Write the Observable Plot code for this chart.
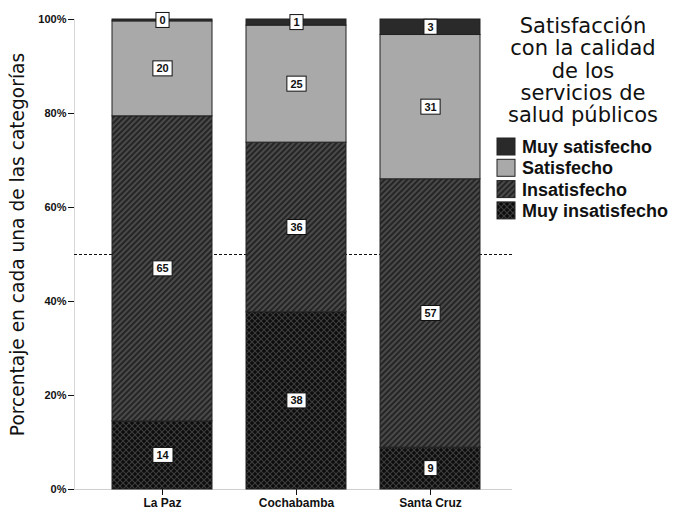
<!DOCTYPE html>
<html><head><meta charset="utf-8">
<script src="https://cdn.jsdelivr.net/npm/d3@7"></script>
<script src="https://cdn.jsdelivr.net/npm/@observablehq/plot@0.6"></script>
<style>
html,body{margin:0;padding:0;background:#fff;}
#wrap{position:relative;width:673px;height:513px;overflow:hidden;}
#legend{position:absolute;left:0;top:0;pointer-events:none;}
</style></head><body>
<div id="wrap"></div>
<script>
// ---- data ----
const cities = ["La Paz", "Cochabamba", "Santa Cruz"];
const categories = ["Muy insatisfecho", "Insatisfecho", "Satisfecho", "Muy satisfecho"]; // bottom to top
const muyInsatisfecho = [14.5, 37.7, 8.9];
const insatisfecho = [64.9, 36.1, 57.1];
const satisfecho = [20.2, 24.9, 30.7];
const muySatisfecho = [0.4, 1.3, 3.3];
const labelsMuyInsatisfecho = [14, 38, 9];
const labelsInsatisfecho = [65, 36, 57];
const labelsSatisfecho = [20, 25, 31];
const labelsMuySatisfecho = [0, 1, 3];
const yTicks = [0, 20, 40, 60, 80, 100];
const referenceLine = [50];
const yLabel = "Porcentaje en cada una de las categorías";
const legendTitle = ["Satisfacción", "con la calidad", "de los", "servicios de", "salud públicos"];
const legendOrder = ["Muy satisfecho", "Satisfecho", "Insatisfecho", "Muy insatisfecho"];

// ---- styles ----
const fills = {
  "Muy insatisfecho": "url(#p-mi)",
  "Insatisfecho": "url(#p-i)",
  "Satisfecho": "#a9a9a9",
  "Muy satisfecho": "#2a2a2a"
};

const series = [muyInsatisfecho, insatisfecho, satisfecho, muySatisfecho];
const seriesLabels = [labelsMuyInsatisfecho, labelsInsatisfecho, labelsSatisfecho, labelsMuySatisfecho];
const data = [];
categories.forEach((c, k) => cities.forEach((city, i) =>
  data.push({city, category: c, value: series[k][i], label: String(seriesLabels[k][i]), fill: fills[c]})));

const wrap = document.getElementById("wrap");

// pattern defs + legend overlay
const NS = "http://www.w3.org/2000/svg";
const leg = document.createElementNS(NS, "svg");
leg.setAttribute("id", "legend");
leg.setAttribute("width", 673);
leg.setAttribute("height", 513);
leg.innerHTML = `
<defs>
  <pattern id="p-mi" patternUnits="userSpaceOnUse" width="6" height="6">
    <rect width="6" height="6" fill="#0c0c0c"/>
    <path d="M0,0L6,6M6,0L0,6" stroke="#3c3c3c" stroke-width="1.1"/>
  </pattern>
  <pattern id="p-i" patternUnits="userSpaceOnUse" width="4" height="4" patternTransform="rotate(45)">
    <rect width="4" height="4" fill="#252525"/>
    <line x1="1" y1="0" x2="1" y2="4" stroke="#5a5a5a" stroke-width="1.4"/>
  </pattern>
</defs>`;
const tg = document.createElementNS(NS, "g");
tg.setAttribute("font-family", "'DejaVu Sans', sans-serif");
tg.setAttribute("font-size", "21");
tg.setAttribute("text-anchor", "middle");
tg.setAttribute("fill", "#111");
legendTitle.forEach((t, i) => {
  const el = document.createElementNS(NS, "text");
  el.setAttribute("x", 583);
  el.setAttribute("y", 33 + i * 22.3);
  el.textContent = t;
  tg.appendChild(el);
});
leg.appendChild(tg);
const ig = document.createElementNS(NS, "g");
ig.setAttribute("font-family", "'Liberation Sans', Arial, sans-serif");
ig.setAttribute("font-size", "18");
ig.setAttribute("font-weight", "bold");
ig.setAttribute("fill", "#111");
legendOrder.forEach((c, i) => {
  const r = document.createElementNS(NS, "rect");
  r.setAttribute("x", 497); r.setAttribute("y", 138 + i * 21.3);
  r.setAttribute("width", 18); r.setAttribute("height", 17);
  r.setAttribute("fill", fills[c]); r.setAttribute("stroke", "#222");
  ig.appendChild(r);
  const t = document.createElementNS(NS, "text");
  t.setAttribute("x", 522); t.setAttribute("y", 153 + i * 21.3);
  t.textContent = c;
  ig.appendChild(t);
});
leg.appendChild(ig);

const chart = Plot.plot({
  width: 673,
  height: 513,
  marginLeft: 74,
  marginRight: 161,
  marginTop: 19,
  marginBottom: 24,
  style: {fontFamily: "'Liberation Sans', Arial, sans-serif", background: "#fff", color: "#111"},
  x: {domain: cities, paddingInner: 0.256, paddingOuter: 0.26, align: 0.54, label: null},
  y: {domain: [0, 100], label: null},
  color: {type: "identity"},
  marks: [
    Plot.frame({anchor: "left", stroke: "#d8d8d8"}),
    Plot.ruleY([0], {stroke: "#cfcfcf"}),
    Plot.ruleY(referenceLine, {stroke: "#111", strokeDasharray: "3,2", strokeWidth: 1}),
    Plot.barY(data, {x: "city", y: "value", fill: "fill", stroke: "#222", strokeWidth: 1, inset: 0}),
    Plot.text(data, Plot.stackY({x: "city", y: "value", text: "label", fontWeight: "bold", fontSize: 11, fill: "#111", fontFamily: "'Liberation Sans', Arial, sans-serif"})),
    Plot.axisY({ticks: yTicks, tickFormat: d => d + "%", tickSize: 6, tickPadding: 2, fontSize: 11, fontWeight: "bold", label: null}),
    Plot.axisX({tickSize: 6, tickPadding: 3, fontSize: 12, fontWeight: "bold", label: null}),
    Plot.text([yLabel], {frameAnchor: "left", rotate: -90, dx: -64, dy: -10, lineAnchor: "top", textAnchor: "middle", fontSize: 18.6, fontFamily: "'DejaVu Sans', sans-serif", fill: "#111"})
  ]
});
wrap.appendChild(chart);
wrap.appendChild(leg);

// white boxes behind value labels
chart.querySelectorAll('g[aria-label="text"] text').forEach(t => {
  if (t.textContent === yLabel) return;
  const b = t.getBBox();
  const r = document.createElementNS(NS, "rect");
  r.setAttribute("x", b.x - 3.5);
  r.setAttribute("y", b.y - 1.5);
  r.setAttribute("width", b.width + 7);
  r.setAttribute("height", b.height + 3);
  r.setAttribute("fill", "#fff");
  r.setAttribute("stroke", "#111");
  r.setAttribute("stroke-width", "1");
  const tr = t.getAttribute("transform");
  if (tr) r.setAttribute("transform", tr);
  t.parentNode.insertBefore(r, t);
});
</script>
</body></html>
